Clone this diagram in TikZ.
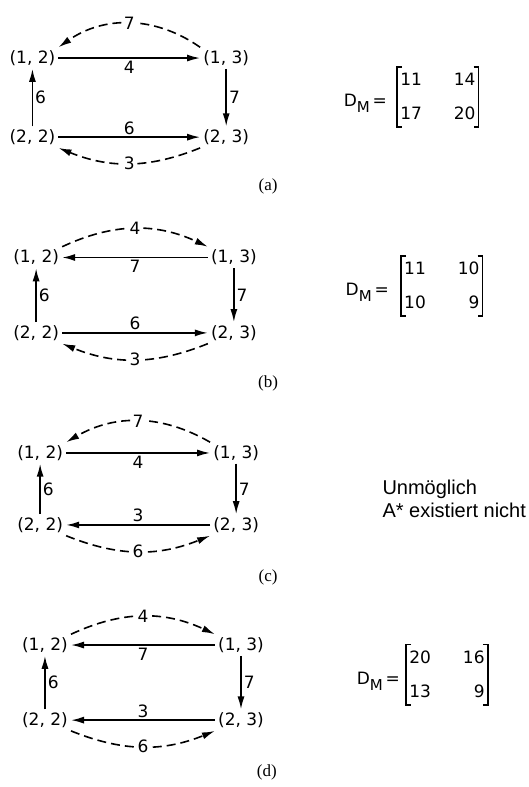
\documentclass[tikz,border=0pt]{standalone}
\usepackage{fontspec}
\setmainfont{DejaVu Sans}
\newfontfamily\capfont{Liberation Serif}
\newfontfamily\txtfont{Liberation Sans}
\usetikzlibrary{arrows.meta,positioning}
\newcommand{\lblfont}{\fontsize{17}{20}\selectfont}
\tikzset{arr/.style={line width=1.6pt, -{Latex[length=13pt, width=7pt]}},
  darr/.style={arr, dash pattern=on 9pt off 5pt},
  vtx/.style={font=\lblfont, inner sep=3pt},
  lbl/.style={font=\lblfont, inner sep=2pt},
  wlbl/.style={lbl, fill=white, inner sep=1pt},
  capt/.style={font=\capfont\fontsize{17}{20}\selectfont},
  mat/.style={font=\fontsize{17}{26}\selectfont, inner xsep=3pt, inner ysep=0pt},
  brk/.style={line width=1.5pt}}

\begin{document}
\begin{tikzpicture}
  \useasboundingbox (0,0) rectangle (18.56,-27.66);
  % (a)
  \node[vtx] (a12) at (1.14,-2.04) {(1, 2)};
  \node[vtx] (a13) at (7.95,-2.04) {(1, 3)};
  \node[vtx] (a22) at (1.14,-4.82) {(2, 2)};
  \node[vtx] (a23) at (7.95,-4.82) {(2, 3)};
  \draw[arr] (a12) -- node[lbl, below]{4} (a13);
  \draw[darr] (a13.north west) to[bend right=35] node[wlbl]{7} (a12.north east);
  \draw[arr] (a13) -- node[lbl, right]{7} (a23);
  \draw[arr] (a22) -- node[lbl, right]{6} (a12);
  \draw[arr] (a22) -- node[lbl, above]{6} (a23);
  \draw[darr] (a23.south west) to[bend left=22] node[wlbl]{3} (a22.south east);
  \node[mat] (ma) at (15.39,-3.41) {\begin{tabular}{@{}l@{\hspace{32pt}}r@{}}11 & 14\\[8pt] 17 & 20\end{tabular}};
  \draw[brk] ([xshift=5pt]ma.north west) -- (ma.north west) -- (ma.south west) -- ++(5pt,0);
  \draw[brk] ([xshift=-5pt]ma.north east) -- (ma.north east) -- (ma.south east) -- ++(-5pt,0);
  \node[lbl, left=8pt of ma, yshift=-6pt] (dma) {D\raisebox{-6pt}{\fontsize{15}{15}\selectfont M}\,=};
  \node[capt] (capa) at (9.42,-6.54) {(a)};
  % (b)
  \node[vtx] (b12) at (1.27,-9.05) {(1, 2)};
  \node[vtx] (b13) at (8.22,-9.05) {(1, 3)};
  \node[vtx] (b22) at (1.27,-11.70) {(2, 2)};
  \node[vtx] (b23) at (8.22,-11.70) {(2, 3)};
  \draw[arr] (b13) -- node[lbl, below]{7} (b12);
  \draw[darr] (b12.north east) to[bend left=25] node[wlbl]{4} (b13.north west);
  \draw[arr] (b13) -- node[lbl, right]{7} (b23);
  \draw[arr] (b22) -- node[lbl, right]{6} (b12);
  \draw[arr] (b22) -- node[lbl, above]{6} (b23);
  \draw[darr] (b23.south west) to[bend left=22] node[wlbl]{3} (b22.south east);
  \node[mat] (mb) at (15.53,-10.05) {\begin{tabular}{@{}l@{\hspace{32pt}}r@{}}11 & 10\\[8pt] 10 & 9\end{tabular}};
  \draw[brk] ([xshift=5pt]mb.north west) -- (mb.north west) -- (mb.south west) -- ++(5pt,0);
  \draw[brk] ([xshift=-5pt]mb.north east) -- (mb.north east) -- (mb.south east) -- ++(-5pt,0);
  \node[lbl, left=10pt of mb, yshift=-6pt] (dmb) {D\raisebox{-6pt}{\fontsize{15}{15}\selectfont M}\,=};
  \node[capt] (capb) at (9.42,-13.46) {(b)};
  % (c)
  \node[vtx] (c12) at (1.41,-15.92) {(1, 2)};
  \node[vtx] (c13) at (8.30,-15.92) {(1, 3)};
  \node[vtx] (c22) at (1.41,-18.45) {(2, 2)};
  \node[vtx] (c23) at (8.30,-18.45) {(2, 3)};
  \draw[arr] (c12) -- node[lbl, below]{4} (c13);
  \draw[darr] (c13.north west) to[bend right=30] node[wlbl]{7} (c12.north east);
  \draw[arr] (c13) -- node[lbl, right]{7} (c23);
  \draw[arr] (c22) -- node[lbl, right]{6} (c12);
  \draw[arr] (c23) -- node[lbl, above]{3} (c22);
  \draw[darr] (c22.south east) to[bend right=22] node[wlbl]{6} (c23.south west);
  \node[anchor=west, align=left, font=\txtfont\fontsize{20}{23}\selectfont] (nimp) at (13.32,-17.54) {Unmöglich\\A* existiert nicht};
  \node[capt] (capc) at (9.42,-20.31) {(c)};
  % (d)
  \node[vtx] (d12) at (1.58,-22.67) {(1, 2)};
  \node[vtx] (d13) at (8.47,-22.67) {(1, 3)};
  \node[vtx] (d22) at (1.58,-25.31) {(2, 2)};
  \node[vtx] (d23) at (8.47,-25.31) {(2, 3)};
  \draw[arr] (d13) -- node[lbl, below]{7} (d12);
  \draw[darr] (d12.north east) to[bend left=25] node[wlbl]{4} (d13.north west);
  \draw[arr] (d13) -- node[lbl, right]{7} (d23);
  \draw[arr] (d22) -- node[lbl, right]{6} (d12);
  \draw[arr] (d23) -- node[lbl, above]{3} (d22);
  \draw[darr] (d22.south east) to[bend right=22] node[wlbl]{6} (d23.south west);
  \node[mat] (md) at (15.71,-23.72) {\begin{tabular}{@{}l@{\hspace{32pt}}r@{}}20 & 16\\[8pt] 13 & 9\end{tabular}};
  \draw[brk] ([xshift=5pt]md.north west) -- (md.north west) -- (md.south west) -- ++(5pt,0);
  \draw[brk] ([xshift=-5pt]md.north east) -- (md.north east) -- (md.south east) -- ++(-5pt,0);
  \node[lbl, left=4pt of md, yshift=-6pt] (dmd) {D\raisebox{-6pt}{\fontsize{15}{15}\selectfont M}\,=};
  \node[capt] (capd) at (9.38,-27.13) {(d)};
\end{tikzpicture}
\end{document}
